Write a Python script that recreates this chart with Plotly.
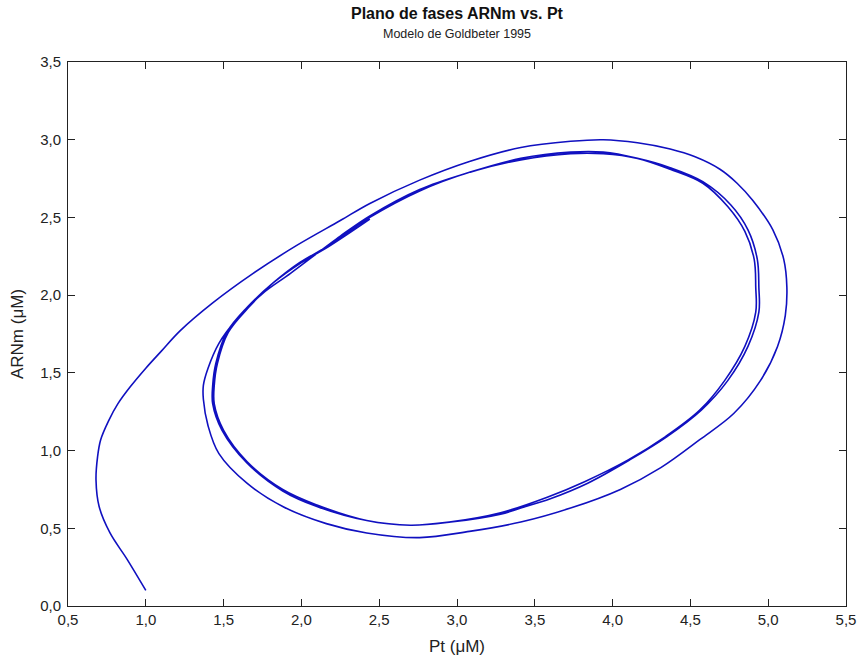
import plotly.graph_objects as go

# Trajectory (Pt in µM, ARNm in µM), in three stretches
transient_pt = [
    1.00, 0.88, 0.77, 0.70, 0.68, 0.69, 0.71, 0.76, 0.82, 0.90,
    1.00, 1.10, 1.22, 1.43, 1.69, 1.97, 2.25, 2.44, 2.76, 3.08,
    3.41, 3.73, 3.94, 4.16, 4.37, 4.53, 4.69, 4.80, 4.90, 5.03,
    5.10, 5.12, 5.11, 5.06, 4.95, 4.78, 4.56, 4.31, 4.05, 3.73,
    3.41, 3.08, 2.76, 2.42, 2.16, 1.88, 1.65, 1.47, 1.40, 1.37,
    1.37, 1.40, 1.47, 1.58, 1.75, 1.93,
]
transient_arnm = [
    0.10, 0.30, 0.47, 0.64, 0.81, 0.96, 1.07, 1.19, 1.30, 1.41,
    1.53, 1.64, 1.77, 1.95, 2.14, 2.32, 2.48, 2.59, 2.74, 2.86,
    2.95, 2.99, 3.00, 2.98, 2.94, 2.89, 2.81, 2.72, 2.61, 2.42,
    2.23, 2.05, 1.87, 1.67, 1.45, 1.24, 1.07, 0.89, 0.75, 0.63,
    0.54, 0.48, 0.44, 0.47, 0.53, 0.64, 0.79, 0.98, 1.16, 1.33,
    1.42, 1.53, 1.69, 1.84, 2.01, 2.14,
]
loop2_pt = [
    2.25, 2.44, 2.76, 3.08, 3.41, 3.73, 3.94, 4.16, 4.37, 4.58,
    4.76, 4.87, 4.93, 4.94, 4.94, 4.87, 4.74, 4.57, 4.35, 4.11,
    3.84, 3.60, 3.41, 3.28, 2.96, 2.70, 2.42, 2.10, 1.88, 1.65,
    1.49, 1.43, 1.43, 1.45, 1.52, 1.65, 1.82, 1.99, 2.16, 2.44,
]
loop2_arnm = [
    2.38, 2.51, 2.68, 2.79, 2.88, 2.92, 2.92, 2.88, 2.82, 2.73,
    2.58, 2.42, 2.23, 2.05, 1.89, 1.67, 1.45, 1.26, 1.09, 0.94,
    0.79, 0.69, 0.63, 0.59, 0.54, 0.52, 0.55, 0.64, 0.74, 0.92,
    1.13, 1.30, 1.42, 1.56, 1.76, 1.92, 2.08, 2.21, 2.31, 2.50,
]
loop3_pt = [
    2.76, 3.08, 3.41, 3.73, 3.94, 4.16, 4.37, 4.58, 4.74, 4.85,
    4.91, 4.92, 4.92, 4.85, 4.72, 4.56, 4.34, 4.10, 3.82, 3.58,
    3.28, 2.95, 2.70, 2.42, 2.10, 1.88, 1.65, 1.50, 1.44, 1.44,
    1.46, 1.53, 1.66, 1.82, 2.00, 2.17, 2.44,
]
loop3_arnm = [
    2.67, 2.79, 2.87, 2.91, 2.91, 2.88, 2.81, 2.72, 2.57, 2.41,
    2.23, 2.05, 1.89, 1.67, 1.45, 1.26, 1.09, 0.94, 0.80, 0.70,
    0.60, 0.54, 0.52, 0.55, 0.65, 0.75, 0.93, 1.13, 1.30, 1.42,
    1.56, 1.76, 1.92, 2.08, 2.21, 2.31, 2.49,
]

x_ticks = [0.5, 1.0, 1.5, 2.0, 2.5, 3.0, 3.5, 4.0, 4.5, 5.0, 5.5]
y_ticks = [0.0, 0.5, 1.0, 1.5, 2.0, 2.5, 3.0, 3.5]

title_text = "Plano de fases ARNm vs. Pt"
subtitle_text = "Modelo de Goldbeter 1995"
x_title = "Pt (μM)"
y_title = "ARNm (μM)"

FONT = "Liberation Sans, Arial, sans-serif"

pt_values = transient_pt + loop2_pt + loop3_pt
arnm_values = transient_arnm + loop2_arnm + loop3_arnm

fig = go.Figure()
fig.add_trace(go.Scatter(
    x=pt_values, y=arnm_values, mode="lines",
    line=dict(color="#1010c0", width=1.6, shape="spline", smoothing=1.0),
    showlegend=False, hoverinfo="skip",
))

axis_common = dict(
    showline=True, linecolor="#222222", linewidth=1, mirror="ticks",
    ticks="inside", ticklen=7, tickwidth=1, tickcolor="#222222",
    showgrid=False, zeroline=False,
    tickfont=dict(family=FONT, size=15, color="#222222"),
    tickformat=".1f",
)

fig.update_layout(
    width=858, height=660,
    paper_bgcolor="white", plot_bgcolor="white",
    separators=",.",
    margin=dict(l=68, r=12, t=62, b=54, autoexpand=False),
    font=dict(family=FONT, color="#222222"),
    hovermode=False,
    xaxis=dict(range=[0.5, 5.5], tickvals=x_ticks, automargin=False,
               title=dict(text=x_title, font=dict(family=FONT, size=17), standoff=13),
               **axis_common),
    yaxis=dict(range=[0.0, 3.5], tickvals=y_ticks, automargin=False, ticklabelstandoff=3,
               title=dict(text=y_title, font=dict(family=FONT, size=17), standoff=12),
               **axis_common),
    annotations=[
        dict(text="<b>" + title_text + "</b>", xref="paper", yref="paper", x=0.5, y=1,
             yanchor="bottom", yshift=38, showarrow=False,
             font=dict(family=FONT, size=16, color="#111111")),
        dict(text=subtitle_text, xref="paper", yref="paper", x=0.5, y=1,
             yanchor="bottom", yshift=19, showarrow=False,
             font=dict(family=FONT, size=12.5, color="#222222")),
    ],
)

fig.write_html(
    "out.html",
    config={"displayModeBar": False, "staticPlot": True},
    post_script="document.body.style.margin='0';document.body.style.overflow='hidden';",
)
